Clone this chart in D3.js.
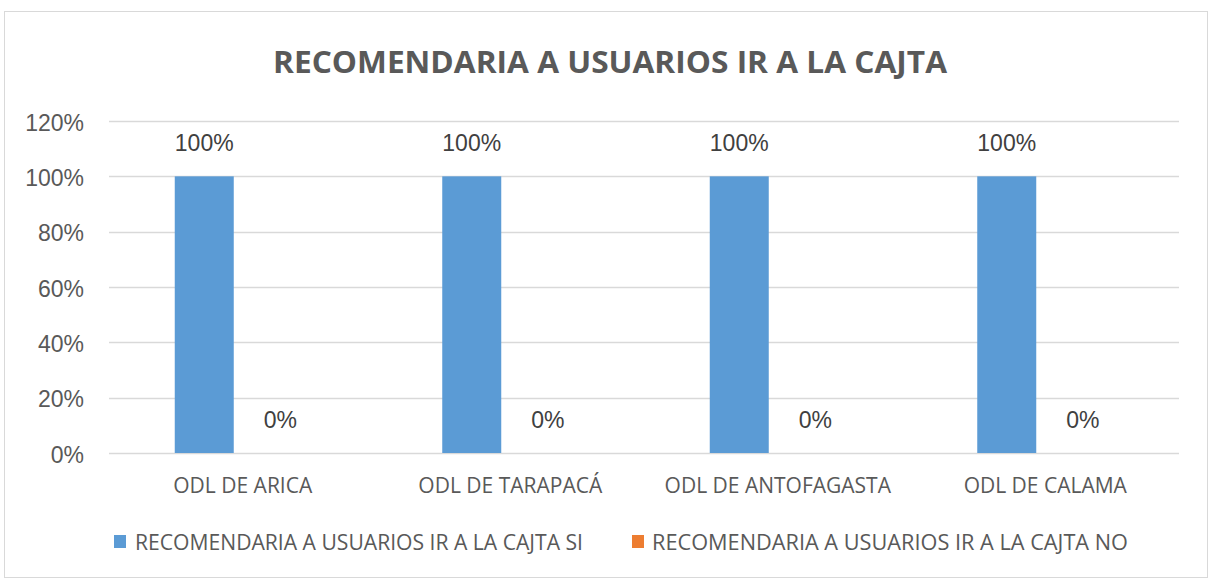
<!DOCTYPE html>
<html><head><meta charset="utf-8">
<script src="https://cdn.jsdelivr.net/npm/d3@7"></script>
<style>body{margin:0;background:#fff}</style>
</head><body>
<svg id="c" width="1212" height="580"></svg>
<script>
const title = "RECOMENDARIA A USUARIOS IR A LA CAJTA";
const categories = ["ODL DE ARICA", "ODL DE TARAPACÁ", "ODL DE ANTOFAGASTA", "ODL DE CALAMA"];
const seriesNames = ["RECOMENDARIA A USUARIOS IR A LA CAJTA SI", "RECOMENDARIA A USUARIOS IR A LA CAJTA NO"];
const siValues = [1, 1, 1, 1];
const noValues = [0, 0, 0, 0];
const yTicks = [0, 0.2, 0.4, 0.6, 0.8, 1.0, 1.2];
const colors = ["#5b9bd5", "#ed7d31"];

(function(){
const svg = d3.select("#c");
svg.append("rect").attr("x",4.5).attr("y",11.5).attr("width",1203).attr("height",566)
  .attr("fill","#fff").attr("stroke","#d9d9d9");

const pL = 109, pR = 1179, pT = 121, pB = 453;
const x = d3.scaleBand().domain(categories).range([pL, pR]).paddingInner(0).paddingOuter(0);
const y = d3.scaleLinear().domain([0, 1.2]).range([pB, pT]);
const barW = 59;

svg.append("text").attr("x",610).attr("y",73).attr("text-anchor","middle")
  .attr("font-family","'Open Sans', sans-serif").attr("font-weight","bold").attr("font-size",31)
  .attr("fill","#595959").attr("textLength",674).attr("lengthAdjust","spacingAndGlyphs").text(title);

svg.append("g").selectAll("line").data(yTicks).join("line")
  .attr("x1",pL).attr("x2",pR).attr("y1",d=>Math.round(y(d))+0.5).attr("y2",d=>Math.round(y(d))+0.5)
  .attr("stroke","#d9d9d9").attr("stroke-width",1.3);

const yAxis = d3.axisLeft(y).tickValues(yTicks).tickFormat(d=>Math.round(d*100)+"%").tickSize(0).tickPadding(25);
const ga = svg.append("g").attr("transform",`translate(${pL},0)`).call(yAxis);
ga.select(".domain").remove();
ga.selectAll("text").attr("font-family","'Liberation Sans', Arial, sans-serif").attr("font-size",23)
  .attr("fill","#595959").attr("dy","9px");

const data = categories.map((c,i)=>({c, si: siValues[i], no: noValues[i]}));
const bx = c => x(c) + x.bandwidth()/2 - barW - 9;

svg.append("g").selectAll("rect").data(data).join("rect")
  .attr("x",d=>bx(d.c)).attr("width",barW).attr("y",d=>y(d.si)).attr("height",d=>y(0)-y(d.si)).attr("fill",colors[0]);
svg.append("g").selectAll("rect").data(data).join("rect")
  .attr("x",d=>bx(d.c)+barW).attr("width",barW).attr("y",d=>y(d.no)).attr("height",d=>y(0)-y(d.no)).attr("fill",colors[1]);

const lblFont = "'Liberation Sans', Arial, sans-serif";
svg.append("g").selectAll("text").data(data).join("text")
  .attr("x",d=>bx(d.c)+barW/2).attr("y",d=>y(d.si)-25).attr("text-anchor","middle")
  .attr("font-family",lblFont).attr("font-size",23).attr("fill","#404040").text(d=>Math.round(d.si*100)+"%");
svg.append("g").selectAll("text").data(data).join("text")
  .attr("x",d=>bx(d.c)+barW*1.5+17).attr("y",d=>y(d.no)-25).attr("text-anchor","middle")
  .attr("font-family",lblFont).attr("font-size",23).attr("fill","#404040").text(d=>Math.round(d.no*100)+"%");

const xAxis = d3.axisBottom(x).tickSize(0).tickPadding(0);
const gx = svg.append("g").attr("transform",`translate(0,${pB})`).call(xAxis);
gx.select(".domain").remove();
gx.selectAll("text").attr("font-family","'Open Sans', sans-serif").attr("font-size",21)
  .attr("fill","#595959").attr("dy",null).attr("y",40);

const legX = [114, 632], legTX = [135, 652], legTW = [448, 476];
const lg = svg.append("g");
seriesNames.forEach((n,i)=>{
  lg.append("rect").attr("x",legX[i]).attr("y",535).attr("width",12).attr("height",13).attr("fill",colors[i]);
  lg.append("text").attr("x",legTX[i]).attr("y",550).attr("font-family","'Open Sans', sans-serif")
    .attr("font-size",21).attr("fill","#595959").attr("textLength",legTW[i]).attr("lengthAdjust","spacingAndGlyphs").text(n);
});
})();
</script>
</body></html>
